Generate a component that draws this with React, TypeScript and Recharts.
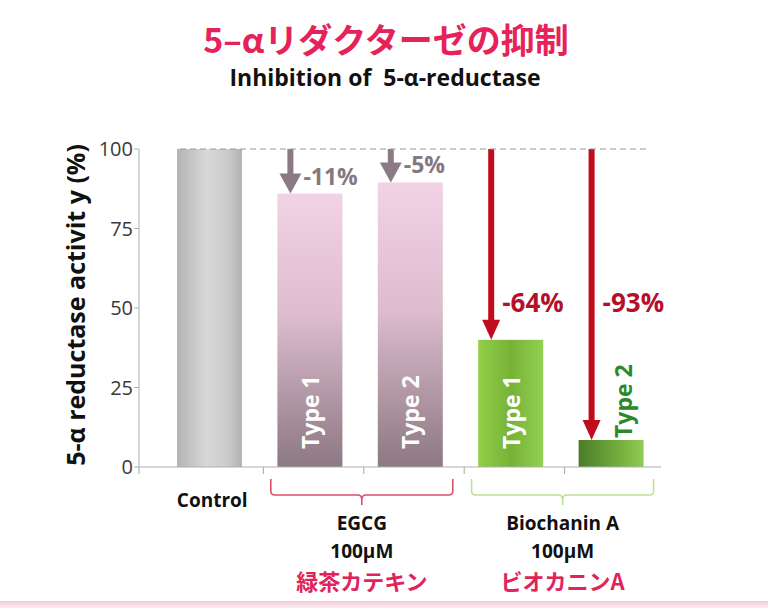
import React from 'react';
import { BarChart, Bar, XAxis, YAxis, ReferenceLine, Label } from 'recharts';

const categories = ['Control', 'EGCG Type 1', 'EGCG Type 2', 'Biochanin A Type 1', 'Biochanin A Type 2'];
const activity = [100, 86, 89.5, 40, 8.5];
const changeLabels = ['', '-11%', '-5%', '-64%', '-93%'];
const typeLabels = ['', 'Type 1', 'Type 2', 'Type 1', 'Type 2'];
const yTicks = [0, 25, 50, 75, 100];
const groupNames = ['EGCG', 'Biochanin A'];
const groupDoses = ['100μM', '100μM'];
const groupJp = ['緑茶カテキン', 'ビオカニンA'];
const groupFirstIndex = [1, 3];

const data = categories.map((c, i) => ({ category: c, value: activity[i], change: changeLabels[i], type: typeLabels[i] }));

const FONT = '"Open Sans", "Noto Sans", sans-serif';
const JPFONT = '"Noto Sans CJK JP", "Noto Sans", sans-serif';
const barFills = ['url(#gGray)', 'url(#gPink)', 'url(#gPink)', 'url(#gGreen1)', 'url(#gGreen2)'];
const arrowColors = ['', '#8a7a84', '#8a7a84', '#c00d1e', '#c00d1e'];
const changeColors = ['', '#857880', '#857880', '#b5102a', '#b5102a'];
const groupColors = ['#d8506c', '#bde094'];

const BarShape = (props: any) => {
  const { x, y, width, height, index, payload } = props;
  const v = payload.value;
  const bottom = y + height;
  const y100 = bottom - (height * 100) / v;
  const ax = x + 13;
  const red = index >= 3;
  const headH = 20;
  const headW = red ? 18 : 22;
  return (
    <g>
      <rect x={x} y={y} width={width} height={height} fill={barFills[index]} />
      {index > 0 && (
        <g>
          <rect x={ax - 3} y={y100} width={6} height={Math.max(0, y - headH - y100 + 1)} fill={arrowColors[index]} />
          <polygon points={`${ax - headW / 2},${y - headH} ${ax + headW / 2},${y - headH} ${ax},${y}`} fill={arrowColors[index]} />
          <text
            x={ax + (red ? 11 : 13)}
            y={red ? y100 + 163 : y - 9}
            fill={changeColors[index]}
            fontFamily={FONT}
            fontWeight={700}
            fontSize={red ? 26 : 23}
          >
            {payload.change}
          </text>
        </g>
      )}
      {index > 0 && index < 4 && (
        <text
          transform={`translate(${x + width / 2}, ${bottom - 18}) rotate(-90)`}
          fill="#ffffff"
          fontFamily={FONT}
          fontWeight={700}
          fontSize={23}
          dominantBaseline="central"
          textAnchor="start"
        >
          {payload.type}
        </text>
      )}
      {index === 4 && (
        <text
          transform={`translate(${x + width / 2 + 12}, ${y - 2}) rotate(-90)`}
          fill="#2a8a2a"
          fontFamily={FONT}
          fontWeight={700}
          fontSize={23}
          dominantBaseline="central"
          textAnchor="start"
        >
          {payload.type}
        </text>
      )}
    </g>
  );
};

const XTick = (props: any) => {
  const { x, y, index, payload } = props;
  const half = payload && payload.offset ? payload.offset : 50;
  const gi = groupFirstIndex.indexOf(index);
  let group = null;
  if (gi >= 0) {
    const cx = x + half + 2;
    const w = 91;
    const c = groupColors[gi];
    const d = `M ${cx - w} ${y + 12} L ${cx - w} ${y + 24} Q ${cx - w} ${y + 28} ${cx - w + 4} ${y + 28} L ${cx - 4} ${y + 28} Q ${cx} ${y + 28} ${cx} ${y + 33} L ${cx} ${y + 38} M ${cx} ${y + 33} Q ${cx} ${y + 28} ${cx + 4} ${y + 28} L ${cx + w - 4} ${y + 28} Q ${cx + w} ${y + 28} ${cx + w} ${y + 24} L ${cx + w} ${y + 12}`;
    group = (
      <g>
        <path d={d} stroke={c} strokeWidth={1.6} fill="none" />
        <text x={cx} y={y + 63} textAnchor="middle" fontFamily={FONT} fontWeight={700} fontSize={19} fill="#111">
          {groupNames[gi]}
        </text>
        <text x={cx} y={y + 91} textAnchor="middle" fontFamily={FONT} fontWeight={700} fontSize={19} fill="#111">
          {groupDoses[gi]}
        </text>
        <text x={cx} y={y + 123} textAnchor="middle" fontFamily={JPFONT} fontWeight={700} fontSize={22} fill="#e0245a">
          {groupJp[gi]}
        </text>
      </g>
    );
  }
  return (
    <g>
      <line x1={index === 0 ? x - half - 20 : x - half + 4} x2={index === 0 ? x - half - 20 : x - half + 4} y1={y} y2={y + 7} stroke="#a8a8a8" strokeWidth={1} />
      {index === 0 && (
        <text x={x + 3} y={y + 40} textAnchor="middle" fontFamily={FONT} fontWeight={700} fontSize={19} fill="#111">
          {payload.value}
        </text>
      )}
      {group}
    </g>
  );
};

const YLabel = (props: any) => {
  const vb = props.viewBox || { x: 79, y: 149, width: 60, height: 318 };
  const cx = vb.x - 4;
  const cy = vb.y + vb.height / 2 - 3;
  return (
    <text
      transform={`translate(${cx}, ${cy}) rotate(-90)`}
      textAnchor="middle"
      dominantBaseline="central"
      fontFamily={FONT}
      fontWeight={700}
      fontSize={25}
      fill="#111"
    >
      5-α reductase activit y (%)
    </text>
  );
};

export default function App() {
  return (
    <div style={{ position: 'absolute', left: 0, top: 0, width: 768, height: 608, background: '#fff', overflow: 'hidden' }}>
      <div
        style={{
          position: 'absolute',
          left: 0,
          width: 768,
          top: 17,
          textAlign: 'center',
          fontFamily: JPFONT,
          fontWeight: 700,
          fontSize: 34,
          color: '#e5235a',
          lineHeight: '44px',
          paddingLeft: 2,
        }}
      >
        5–αリダクターゼの抑制
      </div>
      <div
        style={{
          position: 'absolute',
          left: 0,
          width: 768,
          top: 61,
          textAlign: 'center',
          fontFamily: FONT,
          fontWeight: 700,
          fontSize: 23,
          color: '#111',
          lineHeight: '32px',
          paddingLeft: 1,
        }}
      >
        Inhibition of&nbsp;&nbsp;5-α-reductase
      </div>
      <div style={{ position: 'absolute', left: 0, top: 0 }}>
        <BarChart width={768} height={608} data={data} margin={{ top: 149, right: 107, bottom: 21, left: 79 }}>
          <defs>
            <linearGradient id="gGray" x1="0" y1="0" x2="1" y2="0">
              <stop offset="0%" stopColor="#b3b3b3" />
              <stop offset="45%" stopColor="#d8d8d8" />
              <stop offset="80%" stopColor="#c9c9c9" />
              <stop offset="100%" stopColor="#b2b2b2" />
            </linearGradient>
            <linearGradient id="gPink" x1="0" y1="0" x2="0" y2="1">
              <stop offset="0%" stopColor="#f2d2e5" />
              <stop offset="45%" stopColor="#dcbccd" />
              <stop offset="100%" stopColor="#8c7882" />
            </linearGradient>
            <linearGradient id="gGreen1" x1="0" y1="0" x2="1" y2="0">
              <stop offset="0%" stopColor="#92d048" />
              <stop offset="50%" stopColor="#77b237" />
              <stop offset="100%" stopColor="#92d050" />
            </linearGradient>
            <linearGradient id="gGreen2" x1="0" y1="0" x2="1" y2="0">
              <stop offset="0%" stopColor="#4c7c28" />
              <stop offset="55%" stopColor="#6fa83a" />
              <stop offset="100%" stopColor="#8fcc52" />
            </linearGradient>
          </defs>
          <XAxis
            dataKey="category"
            padding={{ left: 20, right: 0 }}
            axisLine={{ stroke: '#b0b0b0' }}
            tickLine={false}
            tickSize={0}
            tickMargin={0}
            height={120}
            interval={0}
            tick={<XTick />}
          />
          <YAxis
            domain={[0, 100]}
            ticks={yTicks}
            width={60}
            axisLine={{ stroke: '#b0b0b0' }}
            tickLine={{ stroke: '#b0b0b0' }}
            tickSize={5}
            tickMargin={1}
            tick={{ fontFamily: FONT, fontSize: 20, fill: '#3a3a3a' }}
          >
            <Label content={<YLabel />} />
          </YAxis>
          <ReferenceLine
            y={100}
            stroke="#9a9a9a"
            strokeDasharray="6 4"
            shape={(p: any) => (
              <line x1={p.x1 + 41} x2={p.x2 - 13} y1={p.y1} y2={p.y2} stroke="#9a9a9a" strokeWidth={1.2} strokeDasharray="6 4" />
            )}
          />
          <Bar dataKey="value" barSize={65} isAnimationActive={false} shape={<BarShape />} />
        </BarChart>
      </div>
      <div
        style={{
          position: 'absolute',
          left: 0,
          top: 601,
          width: 768,
          height: 7,
          background: 'linear-gradient(#f0c8d6, #fbeef3)',
        }}
      />
    </div>
  );
}
